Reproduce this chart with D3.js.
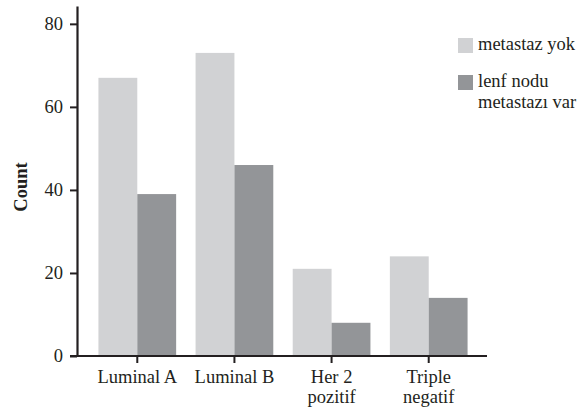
<!DOCTYPE html>
<html><head><meta charset="utf-8">
<script src="https://cdn.jsdelivr.net/npm/d3@7"></script>
<style>body{margin:0;background:#fff}svg{display:block}</style>
</head><body><svg id="c" width="587" height="409" font-family="Liberation Serif, Times New Roman, serif"></svg>
<script>
const categories = [["Luminal A"], ["Luminal B"], ["Her 2", "pozitif"], ["Triple", "negatif"]];
const seriesNames = ["metastaz yok", "lenf nodu metastazı var"];
const legendLines = [["metastaz yok"], ["lenf nodu", "metastazı var"]];
const noMetastasis = [67, 73, 21, 24];
const lymphMetastasis = [39, 46, 8, 14];
const yTicks = [0, 20, 40, 60, 80];
const colors = ["#d1d2d4", "#939598"];

const FONT = "'Liberation Serif', 'Times New Roman', serif";
const ink = "#231f20";
const svg = d3.select("#c");
const fs = 18.5;
const x = d3.scaleBand().domain(d3.range(categories.length)).range([79, 487]).paddingInner(0.2).paddingOuter(0.2);
const x1 = d3.scaleBand().domain([0, 1]).range([0, x.bandwidth()]);
const y = d3.scaleLinear().domain([0, 84.3]).range([356, 6]);
const series = [noMetastasis, lymphMetastasis];

series.forEach((vals, s) => {
  svg.append("g").selectAll("rect").data(vals).join("rect")
    .attr("x", (d, i) => x(i) + x1(s))
    .attr("y", d => y(d))
    .attr("width", x1.bandwidth())
    .attr("height", d => y(0) - y(d))
    .attr("fill", colors[s]);
});

// y axis
const ya = svg.append("g").attr("transform", "translate(77,0)")
  .call(d3.axisLeft(y).tickValues(yTicks).tickSize(7).tickPadding(7).tickSizeOuter(0))
  .attr("font-family", FONT).attr("font-size", fs);
ya.select(".domain").attr("stroke", ink).attr("stroke-width", 2.2);
ya.selectAll(".tick line").attr("stroke", ink).attr("stroke-width", 2);
ya.selectAll(".tick text").attr("fill", ink);

// x axis
const xa = svg.append("g").attr("transform", "translate(0,356)")
  .call(d3.axisBottom(x).tickSize(7).tickSizeOuter(0).tickFormat(""))
  .attr("font-family", FONT).attr("font-size", fs);
xa.select(".domain").attr("d", "M70,0H487").attr("stroke", ink).attr("stroke-width", 2.2);
xa.selectAll(".tick line").attr("stroke", ink).attr("stroke-width", 2);
xa.selectAll(".tick").each(function(d) {
  const t = d3.select(this).append("text").attr("text-anchor", "middle").attr("fill", ink);
  categories[d].forEach((line, k) => t.append("tspan").attr("x", 0).attr("y", 27 + k * 20).text(line));
});

svg.append("text").attr("transform", "translate(27,187) rotate(-90)").attr("text-anchor", "middle")
  .attr("font-family", FONT).attr("font-size", fs).attr("font-weight", "bold").attr("fill", ink).text("Count");

// legend
const lg = svg.append("g").attr("font-family", FONT).attr("font-size", fs);
const legY = [38, 75];
legendLines.forEach((lines, i) => {
  lg.append("rect").attr("x", 458).attr("y", legY[i]).attr("width", 15).attr("height", 15).attr("fill", colors[i]);
  const t = lg.append("text").attr("fill", ink);
  lines.forEach((l, k) => t.append("tspan").attr("x", 478).attr("y", legY[i] + 12 + k * 21).text(l));
});
</script></body></html>
